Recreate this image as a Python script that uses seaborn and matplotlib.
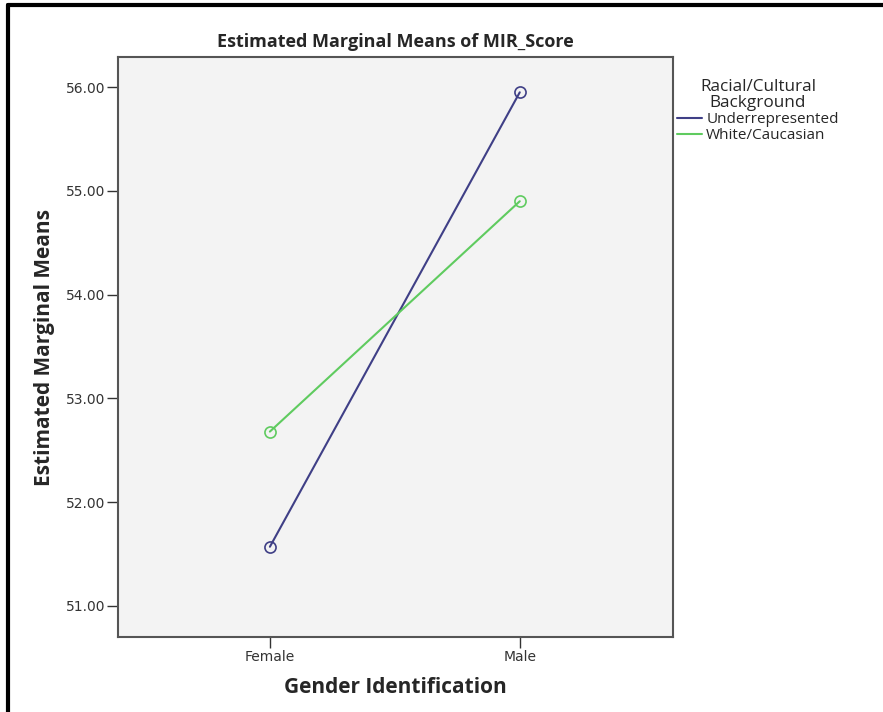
import matplotlib
matplotlib.use('Agg')
import matplotlib.pyplot as plt
import seaborn as sns
import pandas as pd
from matplotlib.lines import Line2D

genders = ['Female', 'Male']
groups = ['Underrepresented', 'White/Caucasian']
underrep_means = [51.57, 55.95]
white_means = [52.68, 54.90]
y_ticks = [51.0, 52.0, 53.0, 54.0, 55.0, 56.0]

colors = {'Underrepresented': '#3f3f86', 'White/Caucasian': '#5fcb5f'}

df = pd.DataFrame({
    'gender': genders * 2,
    'group': [groups[0]] * 2 + [groups[1]] * 2,
    'mean': underrep_means + white_means,
})

sns.set_style('white')
plt.rcParams['font.family'] = ['Open Sans', 'DejaVu Sans']

fig = plt.figure(figsize=(8.83, 7.12), dpi=100)
ax = fig.add_axes([0.1336, 0.1053, 0.6285, 0.8146])
ax.set_facecolor('#f3f3f3')

sns.lineplot(data=df, x='gender', y='mean', hue='group', palette=colors,
             marker='o', markersize=8, markerfacecolor='none',
             linewidth=1.5, legend=False, ax=ax, sort=False)
for line in ax.lines:
    line.set_markeredgecolor(line.get_color())
    line.set_markeredgewidth(1.2)

ax.set_xlim(-0.608, 1.613)
ax.set_ylim(50.70, 56.29)
ax.set_yticks(y_ticks)
ax.set_yticklabels([f'{v:.2f}' for v in y_ticks])
ax.tick_params(axis='both', direction='out', length=8, width=1, colors='#333333',
               labelsize=10, left=True, bottom=True, pad=1)
for lbl in ax.get_xticklabels() + ax.get_yticklabels():
    lbl.set_family('DejaVu Sans')
for s in ax.spines.values():
    s.set_color('#555555')
    s.set_linewidth(1.5)

ax.set_xlabel('Gender Identification', fontsize=15, fontweight='bold', labelpad=10)
ax.set_ylabel('Estimated Marginal Means', fontsize=15, fontweight='bold', labelpad=8)
ax.set_title('Estimated Marginal Means of MIR_Score', fontsize=13, fontweight='bold', pad=7)

handles = [Line2D([0], [0], color=colors[g], lw=1.5) for g in groups]
leg = fig.legend(handles, groups, title='Racial/Cultural\nBackground',
                 loc='upper left', bbox_to_anchor=(0.760, 0.897), frameon=False,
                 fontsize=11, title_fontsize=12.3, handlelength=1.6,
                 handletextpad=0.3, labelspacing=0.05, borderaxespad=0)
leg.get_title().set_multialignment('center')
leg.get_title().set_linespacing(1.0)

# frame border from the screenshot (left and top)
fig.add_artist(Line2D([0.009, 0.009], [0, 0.993], color='black', lw=3,
                      transform=fig.transFigure))
fig.add_artist(Line2D([0.009, 1.0], [0.993, 0.993], color='black', lw=3,
                      transform=fig.transFigure))

fig.savefig('out.png', dpi=100)
plt.close(fig)
